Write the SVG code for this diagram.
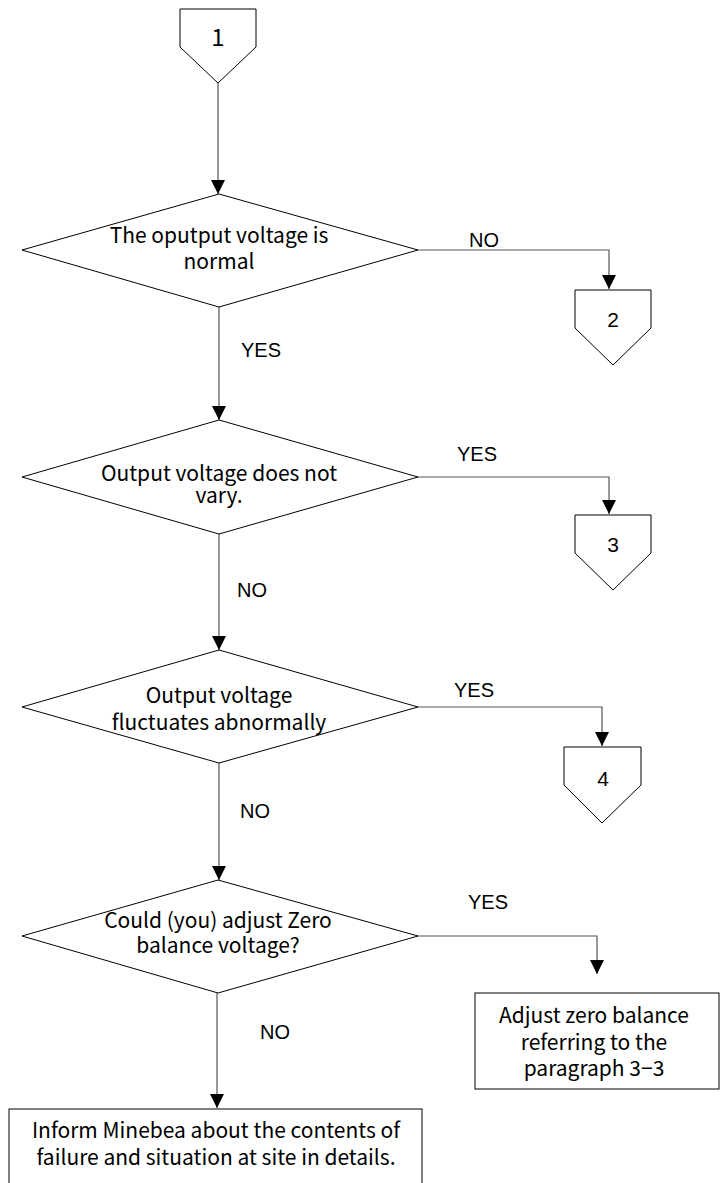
<svg xmlns="http://www.w3.org/2000/svg" width="724" height="1183" viewBox="0 0 724 1183">
  <style>
    .shape { fill: #fff; stroke: #000; stroke-width: 1; }
    .wire { fill: none; stroke: #555; stroke-width: 1.2; }
    .jp { font-family: "Noto Sans CJK JP", "DejaVu Sans", sans-serif; font-size: 21px; fill: #000; text-anchor: middle; }
    .lbl { font-family: "Liberation Sans", Arial, sans-serif; font-size: 20px; fill: #000; }
    .num { font-family: "Liberation Sans", Arial, sans-serif; font-size: 21px; fill: #000; text-anchor: middle; }
  </style>
  <defs>
    <marker id="arrow" markerUnits="userSpaceOnUse" markerWidth="16" markerHeight="16" refX="14" refY="7" orient="auto">
      <path d="M0,0 L14,7 L0,14 Z" fill="#000"/>
    </marker>
  </defs>
  <rect width="724" height="1183" fill="#fff"/>

  <!-- flow lines -->
  <g id="connectors">
    <path class="wire" d="M218,83 V194" marker-end="url(#arrow)"/>
    <path class="wire" d="M219,307 V420" marker-end="url(#arrow)"/>
    <path class="wire" d="M219,534 V650" marker-end="url(#arrow)"/>
    <path class="wire" d="M219,763 V880" marker-end="url(#arrow)"/>
    <path class="wire" d="M217,993 V1108" marker-end="url(#arrow)"/>
    <path class="wire" d="M418,250 H609 V289" marker-end="url(#arrow)"/>
    <path class="wire" d="M418,477 H609 V514" marker-end="url(#arrow)"/>
    <path class="wire" d="M418,707 H602 V746" marker-end="url(#arrow)"/>
    <path class="wire" d="M418,936 H597 V974" marker-end="url(#arrow)"/>
    <text class="lbl" x="469" y="247">NO</text>
    <text class="lbl" x="241" y="357">YES</text>
    <text class="lbl" x="457" y="461">YES</text>
    <text class="lbl" x="237" y="597">NO</text>
    <text class="lbl" x="454" y="697">YES</text>
    <text class="lbl" x="240" y="818">NO</text>
    <text class="lbl" x="468" y="909">YES</text>
    <text class="lbl" x="260" y="1039">NO</text>
  </g>

  <g id="start-1">
    <path class="shape" d="M180,9 H256 V47 L218,83 L180,47 Z"/>
    <text x="218" y="46" font-family="Noto Sans CJK JP, DejaVu Sans, sans-serif" font-size="24" text-anchor="middle">1</text>
  </g>

  <g id="check-normal">
    <path class="shape" d="M219,194 L418,250 L219,307 L22,250 Z"/>
    <text class="jp" x="219" y="243">The oputput voltage is</text>
    <text class="jp" x="219" y="269">normal</text>
  </g>

  <g id="goto-2">
    <path class="shape" d="M575,290 H651 V328 L613,365 L575,328 Z"/>
    <text class="num" x="613" y="327">2</text>
  </g>

  <g id="check-vary">
    <path class="shape" d="M219,420 L418,477 L219,534 L22,477 Z"/>
    <text class="jp" x="219" y="481">Output voltage does not</text>
    <text class="jp" x="219" y="503">vary.</text>
  </g>

  <g id="goto-3">
    <path class="shape" d="M575,515 H651 V553 L613,590 L575,553 Z"/>
    <text class="num" x="613" y="552">3</text>
  </g>

  <g id="check-fluctuate">
    <path class="shape" d="M219,650 L418,707 L219,763 L22,707 Z"/>
    <text class="jp" x="219" y="703">Output voltage</text>
    <text class="jp" x="219" y="730">fluctuates abnormally</text>
  </g>

  <g id="goto-4">
    <path class="shape" d="M564,747 H641 V785 L602,823 L564,785 Z"/>
    <text class="num" x="603" y="786">4</text>
  </g>

  <g id="check-zero">
    <path class="shape" d="M218,880 L418,936 L218,993 L22,936 Z"/>
    <text class="jp" x="218" y="928">Could (you) adjust Zero</text>
    <text class="jp" x="218" y="953">balance voltage?</text>
  </g>

  <g id="adjust-zero">
    <rect class="shape" x="475" y="993" width="244" height="96"/>
    <text class="jp" x="594" y="1023">Adjust zero balance</text>
    <text class="jp" x="594" y="1050">referring to the</text>
    <text class="jp" x="594" y="1076">paragraph 3−3</text>
  </g>

  <g id="inform-minebea">
    <rect class="shape" x="9" y="1109" width="413" height="78"/>
    <text class="jp" x="216" y="1138">Inform Minebea about the contents of</text>
    <text class="jp" x="216" y="1165">failure and situation at site in details.</text>
  </g>
</svg>
